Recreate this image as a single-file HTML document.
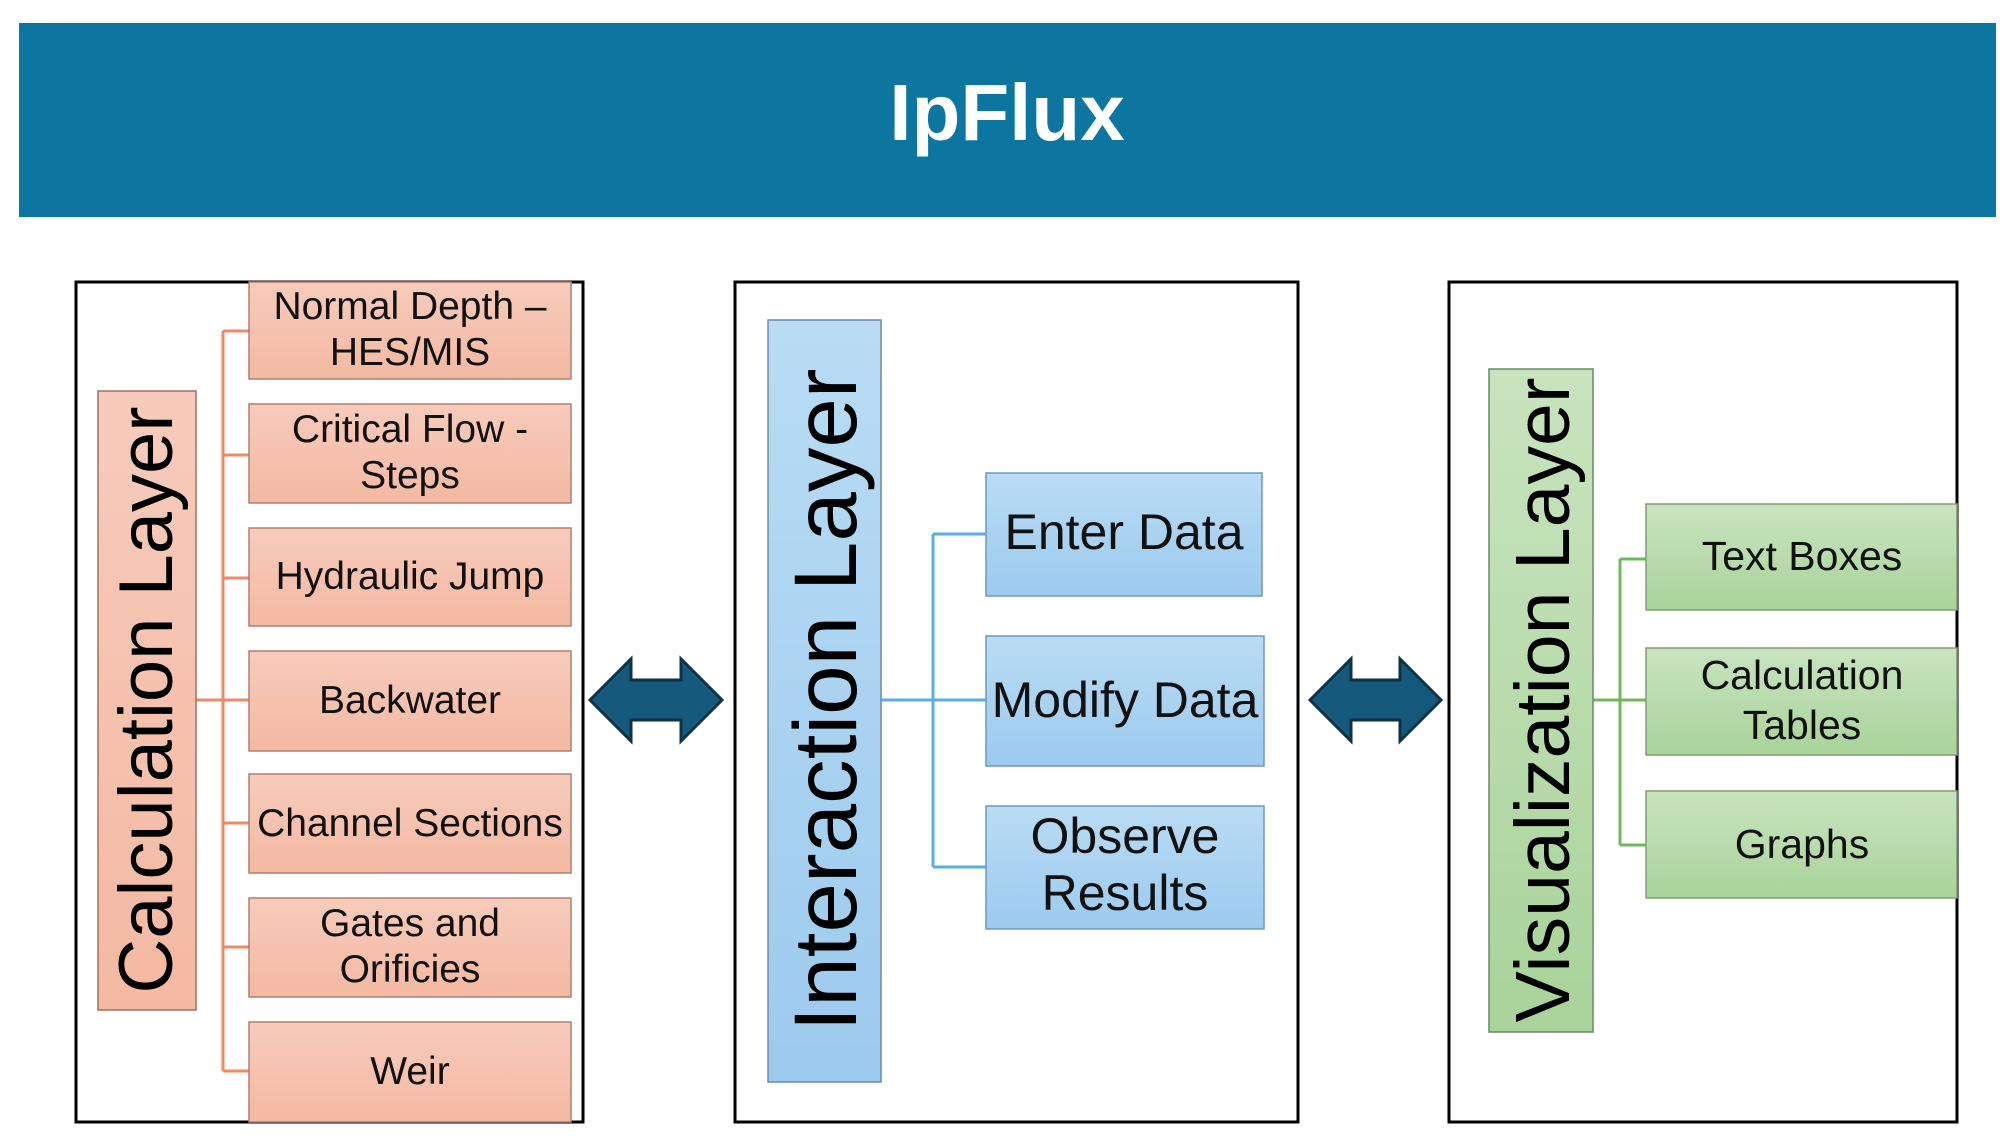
<!DOCTYPE html>
<html><head><meta charset="utf-8"><style>
html,body{margin:0;padding:0;background:#fff;}
svg{display:block;}
text{font-family:"Liberation Sans",sans-serif;}
</style></head><body>
<svg width="2013" height="1138" viewBox="0 0 2013 1138" xmlns="http://www.w3.org/2000/svg">
<defs>
<linearGradient id="gO" x1="0" y1="0" x2="0" y2="1"><stop offset="0" stop-color="#f7cbbb"/><stop offset="1" stop-color="#f4b9a2"/></linearGradient>
<linearGradient id="gB" x1="0" y1="0" x2="0" y2="1"><stop offset="0" stop-color="#b9dcf4"/><stop offset="1" stop-color="#9ccaee"/></linearGradient>
<linearGradient id="gG" x1="0" y1="0" x2="0" y2="1"><stop offset="0" stop-color="#c8e4bf"/><stop offset="1" stop-color="#a9d39a"/></linearGradient>
</defs>
<rect x="19" y="23" width="1977" height="194" fill="#0d76a0"/>
<text x="1007" y="140" font-size="80" font-weight="bold" fill="#fff" text-anchor="middle">IpFlux</text>

<rect x="76" y="282" width="507" height="840" fill="none" stroke="#000" stroke-width="3"/>
<rect x="735" y="282" width="563" height="840" fill="none" stroke="#000" stroke-width="3"/>
<rect x="1449" y="282" width="508" height="840" fill="none" stroke="#000" stroke-width="3"/>

<g stroke="#ee8a66" stroke-width="3" fill="none">
<path d="M196 700 H223 M223 331 V1071"/>
<path d="M223 331H249 M223 455H249 M223 578H249 M223 700H249 M223 823H249 M223 947H249 M223 1071H249"/>
</g>
<rect x="98" y="391" width="98" height="619" fill="url(#gO)" stroke="#a07060" stroke-width="1.5"/>
<text transform="translate(172,700) rotate(-90)" font-size="76" text-anchor="middle" fill="#000">Calculation Layer</text>

<g stroke="#b08070" stroke-width="1.5" fill="url(#gO)">
<rect x="249" y="282" width="322" height="97"/>
<rect x="249" y="404" width="322" height="99"/>
<rect x="249" y="528" width="322" height="98"/>
<rect x="249" y="651" width="322" height="100"/>
<rect x="249" y="774" width="322" height="99"/>
<rect x="249" y="898" width="322" height="99"/>
<rect x="249" y="1022" width="322" height="100"/>
</g>
<g font-size="39" text-anchor="middle" fill="#111">
<text x="410" y="319">Normal Depth –</text>
<text x="410" y="365">HES/MIS</text>
<text x="410" y="442">Critical Flow -</text>
<text x="410" y="488">Steps</text>
<text x="410" y="589">Hydraulic Jump</text>
<text x="410" y="713">Backwater</text>
<text x="410" y="836">Channel Sections</text>
<text x="410" y="936">Gates and</text>
<text x="410" y="982">Orificies</text>
<text x="410" y="1084">Weir</text>
</g>

<g fill="#155a7c" stroke="#0c3246" stroke-width="3">
<path d="M590 700 L631 659 V680 H681 V659 L722 700 L681 741 V720 H631 V741 Z"/>
<path d="M1310 700 L1351 659 V680 H1400 V659 L1441 700 L1400 741 V720 H1351 V741 Z"/>
</g>

<g stroke="#5aaee0" stroke-width="3" fill="none">
<path d="M881 700 H986 M933 534 V867 M933 534 H986 M933 867 H986"/>
</g>
<rect x="768" y="320" width="113" height="762" fill="url(#gB)" stroke="#6a8aa8" stroke-width="1.5"/>
<text transform="translate(856,700) rotate(-90)" font-size="89" text-anchor="middle" fill="#000">Interaction Layer</text>
<g stroke="#6a9ac0" stroke-width="1.5" fill="url(#gB)">
<rect x="986" y="473" width="276" height="123"/>
<rect x="986" y="636" width="278" height="130"/>
<rect x="986" y="806" width="278" height="123"/>
</g>
<g font-size="50" text-anchor="middle" fill="#111">
<text x="1124" y="549">Enter Data</text>
<text x="1125" y="717">Modify Data</text>
<text x="1125" y="853">Observe</text>
<text x="1125" y="910">Results</text>
</g>

<g stroke="#6cbb58" stroke-width="3" fill="none">
<path d="M1593 700 H1646 M1620 559 V845 M1620 559 H1646 M1620 845 H1646"/>
</g>
<rect x="1489" y="369" width="104" height="663" fill="url(#gG)" stroke="#6a8a60" stroke-width="1.5"/>
<text transform="translate(1569,700) rotate(-90)" font-size="77" text-anchor="middle" fill="#000">Visualization Layer</text>
<g stroke="#80a070" stroke-width="1.5" fill="url(#gG)">
<rect x="1646" y="504" width="311" height="106"/>
<rect x="1646" y="648" width="311" height="107"/>
<rect x="1646" y="791" width="311" height="107"/>
</g>
<g font-size="41" text-anchor="middle" fill="#111">
<text x="1802" y="570">Text Boxes</text>
<text x="1802" y="689">Calculation</text>
<text x="1802" y="739">Tables</text>
<text x="1802" y="858">Graphs</text>
</g>
</svg>
</body></html>
